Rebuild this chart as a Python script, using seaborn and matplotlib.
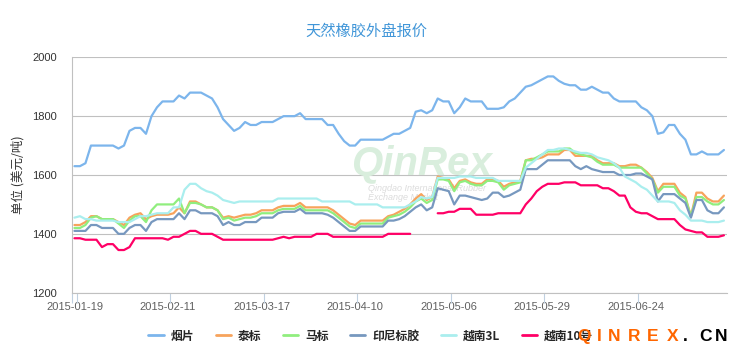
import numpy as np
import pandas as pd
import seaborn as sns
import matplotlib
matplotlib.use("Agg")
import matplotlib.pyplot as plt
from matplotlib.lines import Line2D

# tick labels shown on the category axis (every 17 trading days)
tick_dates = ["2015-01-19", "2015-02-11", "2015-03-17", "2015-04-10",
              "2015-05-06", "2015-05-29", "2015-06-24"]
tick_step = 17
n_days = 119

series_names = ["烟片", "泰标", "马标", "印尼标胶", "越南3L", "越南10号"]
colors = ["#7cb5ec", "#f7a35c", "#90ee7e", "#7798bf", "#aaeeee", "#ff0066"]

yanpian = [1630, 1630, 1640, 1700, 1700, 1700, 1700, 1700, 1690, 1700,
           1750, 1760, 1760, 1740, 1800, 1830, 1850, 1850, 1850, 1870,
           1860, 1880, 1880, 1880, 1870, 1860, 1830, 1790, 1770, 1750,
           1760, 1780, 1770, 1770, 1780, 1780, 1780, 1790, 1800, 1800,
           1800, 1810, 1790, 1790, 1790, 1790, 1770, 1770, 1740, 1715,
           1700, 1700, 1720, 1720, 1720, 1720, 1720, 1730, 1740, 1740,
           1750, 1760, 1815, 1820, 1810, 1820, 1860, 1850, 1850, 1810,
           1830, 1860, 1850, 1850, 1850, 1825, 1825, 1825, 1830, 1850,
           1860, 1880, 1900, 1905, 1915, 1925, 1935, 1935, 1920, 1910,
           1905, 1905, 1890, 1890, 1900, 1890, 1880, 1880, 1860, 1850,
           1850, 1850, 1850, 1830, 1820, 1800, 1740, 1745, 1770, 1770,
           1740, 1720, 1670, 1670, 1680, 1670, 1670, 1670, 1685]

taibiao = [1430, 1430, 1440, 1460, 1460, 1450, 1450, 1450, 1440, 1430,
           1455, 1465, 1470, 1450, 1460, 1465, 1465, 1465, 1470, 1490,
           1470, 1510, 1510, 1500, 1490, 1490, 1480, 1455, 1460, 1455,
           1460, 1465, 1465, 1470, 1480, 1480, 1480, 1490, 1495, 1495,
           1495, 1505, 1490, 1490, 1490, 1490, 1490, 1480, 1465, 1450,
           1435, 1430, 1445, 1445, 1445, 1445, 1445, 1460, 1465, 1475,
           1485, 1500, 1520, 1535, 1515, 1525, 1595, 1590, 1585, 1555,
           1580, 1585, 1575, 1570, 1570, 1585, 1585, 1580, 1560, 1570,
           1575, 1580, 1650, 1655, 1655, 1660, 1670, 1670, 1670, 1685,
           1685, 1665, 1665, 1665, 1665, 1650, 1640, 1640, 1640, 1630,
           1630, 1635, 1635, 1625, 1610, 1590, 1545, 1570, 1570, 1570,
           1540, 1525, 1460, 1540, 1540, 1520, 1510, 1510, 1530]

mabiao = [1420, 1420, 1430, 1455, 1460, 1450, 1450, 1450, 1435, 1420,
          1445, 1460, 1460, 1440, 1480, 1500, 1500, 1500, 1500, 1520,
          1470, 1505, 1505, 1500, 1490, 1490, 1480, 1450, 1455, 1445,
          1450, 1455, 1455, 1460, 1470, 1470, 1470, 1480, 1485, 1485,
          1485, 1495, 1480, 1480, 1480, 1480, 1480, 1470, 1455, 1440,
          1425, 1420, 1435, 1435, 1435, 1435, 1435, 1455, 1460, 1465,
          1475, 1490, 1510, 1520, 1505, 1515, 1585, 1585, 1580, 1545,
          1575, 1580, 1570, 1565, 1565, 1580, 1580, 1575, 1550, 1565,
          1570, 1575, 1650, 1650, 1660, 1670, 1680, 1680, 1680, 1690,
          1690, 1675, 1670, 1665, 1660, 1645, 1635, 1635, 1635, 1625,
          1625, 1625, 1625, 1625, 1605, 1585, 1540, 1560, 1560, 1560,
          1530, 1520, 1460, 1525, 1525, 1510, 1500, 1500, 1515]

yinni = [1410, 1410, 1410, 1430, 1430, 1420, 1420, 1420, 1400, 1400,
         1420, 1430, 1430, 1410, 1440, 1450, 1450, 1450, 1450, 1470,
         1450, 1480, 1480, 1470, 1470, 1470, 1460, 1430, 1440, 1430,
         1430, 1440, 1440, 1440, 1455, 1455, 1455, 1470, 1475, 1475,
         1475, 1485, 1470, 1470, 1470, 1470, 1465, 1455, 1440, 1425,
         1410, 1410, 1425, 1425, 1425, 1425, 1425, 1445, 1445, 1450,
         1460, 1475, 1490, 1500, 1480, 1490, 1555, 1550, 1545, 1500,
         1530, 1530, 1525, 1520, 1515, 1520, 1540, 1540, 1525, 1530,
         1540, 1550, 1620, 1620, 1620, 1635, 1650, 1650, 1650, 1650,
         1650, 1630, 1620, 1630, 1620, 1615, 1610, 1610, 1610, 1600,
         1600, 1600, 1605, 1605, 1595, 1585, 1510, 1535, 1535, 1535,
         1520, 1505, 1455, 1515, 1515, 1480, 1470, 1470, 1490]

vn3l = [1455, 1460, 1450, 1450, 1445, 1445, 1445, 1445, 1440, 1440,
        1440, 1450, 1460, 1460, 1465, 1470, 1470, 1470, 1490, 1490,
        1550, 1570, 1570, 1555, 1545, 1540, 1530, 1515, 1510, 1505,
        1510, 1510, 1510, 1510, 1510, 1510, 1510, 1520, 1520, 1520,
        1520, 1520, 1520, 1520, 1520, 1510, 1510, 1510, 1510, 1510,
        1510, 1500, 1500, 1500, 1500, 1500, 1490, 1490, 1490, 1490,
        1490, 1500, 1510, 1525, 1520, 1525, 1590, 1590, 1590, 1590,
        1595, 1595, 1595, 1590, 1590, 1590, 1590, 1580, 1580, 1580,
        1580, 1580, 1625, 1640, 1655, 1670, 1685, 1685, 1690, 1690,
        1685, 1680, 1675, 1675, 1670, 1660, 1655, 1650, 1640, 1625,
        1595, 1585, 1575, 1560, 1550, 1530, 1510, 1510, 1510, 1505,
        1480, 1465, 1445, 1445, 1445, 1440, 1440, 1440, 1445]

vn10 = [1385, 1385, 1380, 1380, 1380, 1355, 1365, 1365, 1345, 1345,
        1355, 1385, 1385, 1385, 1385, 1385, 1385, 1380, 1390, 1390,
        1400, 1410, 1410, 1400, 1400, 1400, 1390, 1380, 1380, 1380,
        1380, 1380, 1380, 1380, 1380, 1380, 1380, 1385, 1390, 1385,
        1390, 1390, 1390, 1390, 1400, 1400, 1400, 1390, 1390, 1390,
        1390, 1390, 1390, 1390, 1390, 1390, 1390, 1400, 1400, 1400,
        1400, 1400, np.nan, np.nan, np.nan, np.nan, 1470, 1470, 1475, 1475,
        1485, 1485, 1485, 1465, 1465, 1465, 1465, 1470, 1470, 1470,
        1470, 1470, 1500, 1520, 1545, 1560, 1570, 1570, 1570, 1575,
        1575, 1575, 1565, 1565, 1565, 1565, 1555, 1555, 1545, 1530,
        1530, 1490, 1475, 1470, 1470, 1460, 1450, 1450, 1450, 1450,
        1430, 1415, 1410, 1405, 1405, 1390, 1390, 1390, 1395]

sns.set_theme(style="white")
plt.rcParams["font.family"] = ["Noto Sans CJK SC", "DejaVu Sans"]

fig = plt.figure(figsize=(7.46, 3.59), dpi=100)
ax = fig.add_axes([0.0961, 0.1847, 0.8780, 0.6557])

day = np.arange(n_days)
all_series = [yanpian, taibiao, mabiao, yinni, vn3l, vn10]
for name, vals, col in zip(series_names, all_series, colors):
    df = pd.DataFrame({"day": day, "price": vals})
    # break the line where there is no quote
    df["run"] = df["price"].isna().cumsum()
    df = df.dropna()
    for _, part in df.groupby("run"):
        sns.lineplot(data=part, x="day", y="price", color=col, linewidth=1.6,
                     ax=ax, legend=False, zorder=3)

ax.set_xlim(-0.5, n_days - 0.5)
ax.set_ylim(1200, 2000)
ax.set_yticks([1200, 1400, 1600, 1800, 2000])
ax.set_xticks(np.arange(len(tick_dates)) * tick_step)
ax.set_xticklabels(tick_dates)
ax.set_xticks(list(np.arange(len(tick_dates)) * tick_step + 0.4) + [-0.5], minor=True)
ax.set_xlabel("")
ax.set_ylabel("")

ax.yaxis.grid(True, color="#c0c0c0", linewidth=0.8)
ax.xaxis.grid(False)
for s in ["top", "right"]:
    ax.spines[s].set_visible(False)
for s in ["left", "bottom"]:
    ax.spines[s].set_color("#c0c0c0")
    ax.spines[s].set_linewidth(0.8)

ax.tick_params(axis="x", which="major", length=0, pad=7, labelsize=8,
               labelcolor="#606060")
ax.tick_params(axis="x", which="minor", length=7, width=0.8, color="#c0d0e0",
               bottom=True)
ax.tick_params(axis="y", length=0, pad=10.5, labelsize=8, labelcolor="#333333")
for lab in ax.get_xticklabels() + ax.get_yticklabels():
    lab.set_family("Liberation Sans")

# faint watermark behind the lines
ax.text(0.565, 0.545, "QinRex", transform=fig.transFigure, fontsize=29,
        fontstyle="italic", fontweight="bold", color="#d9eedd",
        family="Liberation Sans", ha="center", va="center", zorder=1)
ax.text(0.493, 0.476, "Qingdao International Rubber", transform=fig.transFigure,
        fontsize=6.5, fontstyle="italic", color="#dcdcdc",
        family="Liberation Sans", ha="left", va="center", zorder=1)
ax.text(0.493, 0.449, "Exchange Market", transform=fig.transFigure,
        fontsize=6.5, fontstyle="italic", color="#dcdcdc",
        family="Liberation Sans", ha="left", va="center", zorder=1)

fig.text(366 / 746, 1 - 31 / 359, "天然橡胶外盘报价", ha="center", va="center",
         fontsize=11, color="#4196d8")
fig.text(18 / 746, 1 - 175 / 359, "单位 (美元/吨)", rotation=90, ha="center",
         va="center", fontsize=9, color="#333333")

handles = [Line2D([], [], color=c, linewidth=2) for c in colors]
fig.legend(handles, series_names, loc="center", bbox_to_anchor=(0.497, 0.064),
           ncol=6, frameon=False, handlelength=1.3, handletextpad=0.6,
           columnspacing=1.8,
           prop={"family": ["Noto Sans CJK SC", "DejaVu Sans"],
                 "weight": "bold", "size": 8.5})

# site mark over the lower right corner
mark = "QINREX.CN"
mark_x = [584.5, 599.5, 614.5, 634, 653, 672.5, 685, 705.5, 721.5]
mark_c = ["#ff6600"] * 6 + ["#000000"] * 3
for ch, px, c in zip(mark, mark_x, mark_c):
    fig.text(px / 746, 1 - 336.5 / 359, ch, ha="center", va="center",
             fontsize=12.5, fontweight="bold", color=c, family="Liberation Sans",
             zorder=10)

fig.savefig("out.png", dpi=100)
